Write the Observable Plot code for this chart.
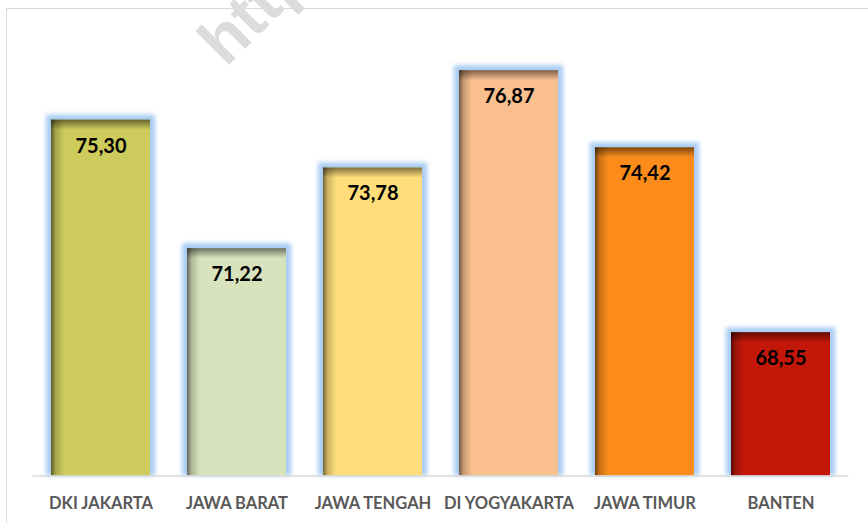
<!DOCTYPE html>
<html>
<head>
<meta charset="utf-8">
<script src="https://cdn.jsdelivr.net/npm/d3@7"></script>
<script src="https://cdn.jsdelivr.net/npm/@observablehq/plot@0.6"></script>
<style>
  html, body { margin: 0; padding: 0; background: #fff; }
  #wrap { position: relative; width: 868px; height: 523px; overflow: hidden; }
  #frame { position: absolute; left: 6px; top: 8px; width: 900px; height: 600px;
           border-left: 1.5px solid #d9d9d9; border-top: 1.5px solid #d9d9d9; }
  #chart { position: absolute; left: 0; top: 0; }
</style>
</head>
<body>
<div id="wrap">
  <div id="frame"></div>
  <div id="chart"></div>
</div>
<script>
const provinces = ["DKI JAKARTA", "JAWA BARAT", "JAWA TENGAH", "DI YOGYAKARTA", "JAWA TIMUR", "BANTEN"];
const values = [75.30, 71.22, 73.78, 76.87, 74.42, 68.55];
const colors = ["#cdcb5b", "#d8e3bd", "#fedd7a", "#f9bf8f", "#fb8c1b", "#c3170a"];
const yDomain = [64, 78];
const watermark = "http";

const data = provinces.map((p, i) => ({province: p, value: values[i], color: colors[i]}));
const fmt = v => v.toFixed(2).replace(".", ",");
const font = "Lato, 'Open Sans', sans-serif";

const chart = Plot.plot({
  width: 868,
  height: 523,
  marginLeft: 32.5,
  marginRight: 19.5,
  marginTop: 34.6,
  marginBottom: 47.5,
  style: {fontFamily: font, background: "transparent", overflow: "visible"},
  x: {domain: provinces, paddingInner: 0.272, paddingOuter: 0.136, label: null},
  y: {domain: yDomain, axis: null},
  marks: [
    // glow
    Plot.barY(data, {x: "province", y1: yDomain[0], y2: "value", fill: "#a9ccf3",
      insetLeft: -5, insetRight: -5, insetTop: -5, insetBottom: 0}),
    // bars
    Plot.barY(data, {x: "province", y1: yDomain[0], y2: "value", fill: "color"}),
    // left inner shadow
    Plot.barY(data, {x: "province", y1: yDomain[0], y2: "value", fill: "url(#gL)", insetRight: 86}),
    // top inner shadow
    Plot.barY(data, {x: "province", y1: "value", y2: "value", fill: "url(#gT)", insetBottom: -10}),
    Plot.ruleY([yDomain[0]], {stroke: "#d9d9d9", strokeWidth: 1.5}),
    Plot.text(data, {x: "province", y: "value", text: d => fmt(d.value), dy: 26,
      fontSize: 20, fontWeight: "bold", fill: "#000", fontFamily: font}),
    Plot.axisX({tickSize: 0, tickPadding: 21, fontSize: 16.5, fontWeight: "bold",
      fill: "#595959", label: null, fontFamily: font})
  ]
});

document.getElementById("chart").appendChild(chart);

// defs: gradients and glow filter
const ns = "http://www.w3.org/2000/svg";
const defs = document.createElementNS(ns, "defs");
defs.innerHTML = `
  <linearGradient id="gL" x1="0" y1="0" x2="1" y2="0">
    <stop offset="0" stop-color="#000" stop-opacity="0.55"/>
    <stop offset="0.35" stop-color="#000" stop-opacity="0.2"/>
    <stop offset="1" stop-color="#000" stop-opacity="0"/>
  </linearGradient>
  <linearGradient id="gT" x1="0" y1="0" x2="0" y2="1">
    <stop offset="0" stop-color="#000" stop-opacity="0.5"/>
    <stop offset="1" stop-color="#000" stop-opacity="0"/>
  </linearGradient>
  <filter id="glow" x="-20%" y="-20%" width="140%" height="140%">
    <feGaussianBlur stdDeviation="2"/>
  </filter>`;
chart.insertBefore(defs, chart.firstChild);
const bars = chart.querySelectorAll('g[aria-label="bar"]');
if (bars.length) bars[0].setAttribute("filter", "url(#glow)");

// watermark (cut off at the top edge, as in the reference)
const wm = document.createElementNS(ns, "text");
wm.setAttribute("transform", "translate(226,68) rotate(-45)");
wm.setAttribute("text-anchor", "start");
wm.setAttribute("font-family", "'Liberation Sans', Arial, sans-serif");
wm.setAttribute("font-weight", "bold");
wm.setAttribute("font-size", "66");
wm.setAttribute("fill", "#dcdcdc");
wm.textContent = watermark;
chart.appendChild(wm);
</script>
</body>
</html>
